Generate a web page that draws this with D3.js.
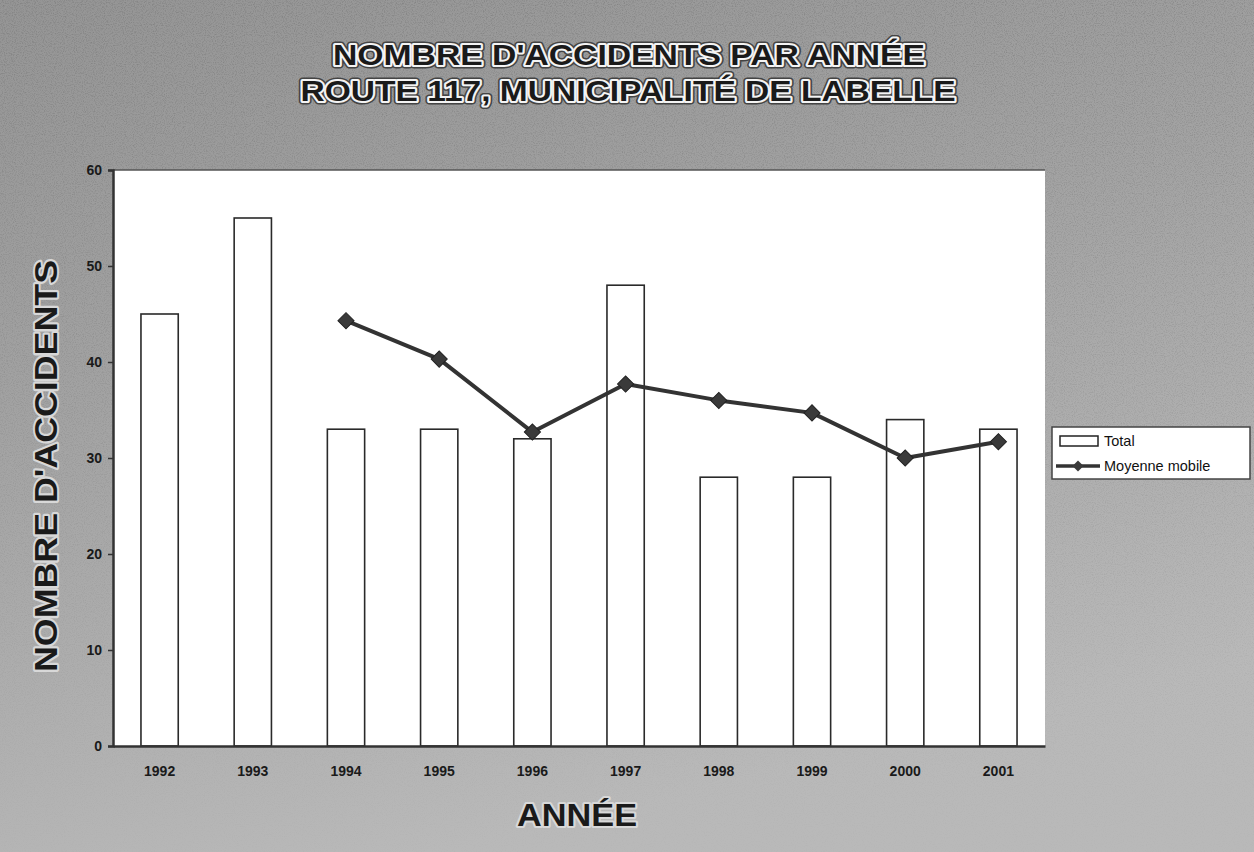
<!DOCTYPE html>
<html>
<head>
<meta charset="utf-8">
<script src="https://cdn.jsdelivr.net/npm/d3@7.9.0/dist/d3.min.js"></script>
<style>
  html, body { margin: 0; padding: 0; background: #a8a8a8; }
  svg { display: block; font-family: "Liberation Sans", Arial, sans-serif; }
</style>
</head>
<body>
<svg id="chart" width="1254" height="852"></svg>
<script>
const years = ["1992", "1993", "1994", "1995", "1996", "1997", "1998", "1999", "2000", "2001"];
const totals = [45, 55, 33, 33, 32, 48, 28, 28, 34, 33];
// moyenne mobile (3 ans), pas de valeur pour 1992 et 1993
const maYears = ["1994", "1995", "1996", "1997", "1998", "1999", "2000", "2001"];
const maValues = [44.3, 40.3, 32.7, 37.7, 36, 34.7, 30, 31.7];
const yTicks = [0, 10, 20, 30, 40, 50, 60];

const svg = d3.select("#chart");
const W = 1254, H = 852;
const plot = { left: 113, right: 1045, top: 170, bottom: 746 };

// fond gris texturé
const defs = svg.append("defs");
const grad = defs.append("linearGradient").attr("id", "bg")
  .attr("x1", 0).attr("y1", 0).attr("x2", 0.35).attr("y2", 1);
grad.append("stop").attr("offset", "0%").attr("stop-color", "#959595");
grad.append("stop").attr("offset", "45%").attr("stop-color", "#a3a3a3");
grad.append("stop").attr("offset", "100%").attr("stop-color", "#b9b9b9");

const fade = defs.append("linearGradient").attr("id", "fade")
  .attr("x1", 0).attr("y1", 0).attr("x2", 0).attr("y2", 1);
fade.append("stop").attr("offset", "0%").attr("stop-color", "#fff");
fade.append("stop").attr("offset", "55%").attr("stop-color", "#fff").attr("stop-opacity", 0.6);
fade.append("stop").attr("offset", "100%").attr("stop-color", "#fff").attr("stop-opacity", 0.1);
defs.append("mask").attr("id", "fadeMask")
  .append("rect").attr("width", W).attr("height", H).attr("fill", "url(#fade)");

const f = defs.append("filter").attr("id", "grain")
  .attr("x", 0).attr("y", 0).attr("width", "100%").attr("height", "100%");
f.append("feTurbulence").attr("type", "fractalNoise").attr("baseFrequency", 0.9)
  .attr("numOctaves", 2).attr("seed", 3).attr("result", "n");
f.append("feColorMatrix").attr("type", "matrix")
  .attr("values", "0 0 0 0 0  0 0 0 0 0  0 0 0 0 0  0 0 0 -1.6 0.9");

svg.append("rect").attr("width", W).attr("height", H).attr("fill", "url(#bg)");
svg.append("rect").attr("width", W).attr("height", H).attr("fill", "#000")
  .attr("opacity", 0.2).attr("filter", "url(#grain)").attr("mask", "url(#fadeMask)");

// zone de tracé
svg.append("rect")
  .attr("x", plot.left).attr("y", plot.top)
  .attr("width", plot.right - plot.left).attr("height", plot.bottom - plot.top)
  .attr("fill", "#fff");
svg.append("line")
  .attr("x1", plot.left).attr("x2", plot.right)
  .attr("y1", plot.top).attr("y2", plot.top)
  .attr("stroke", "#555").attr("stroke-width", 1.5);

const x = d3.scaleBand().domain(years)
  .range([plot.left, plot.right]).paddingInner(0.6).paddingOuter(0.3);
const y = d3.scaleLinear().domain([0, 60]).range([plot.bottom, plot.top]);

// barres
svg.append("g").selectAll("rect")
  .data(years)
  .join("rect")
  .attr("x", d => x(d))
  .attr("y", (d, i) => y(totals[i]))
  .attr("width", x.bandwidth())
  .attr("height", (d, i) => y(0) - y(totals[i]))
  .attr("fill", "#fff")
  .attr("stroke", "#2a2a2a")
  .attr("stroke-width", 1.6);

// axes
const yAxis = svg.append("g")
  .attr("transform", `translate(${plot.left},0)`)
  .call(d3.axisLeft(y).tickValues(yTicks).tickSize(5).tickPadding(6));
yAxis.select(".domain").attr("stroke", "#333").attr("stroke-width", 2.5);
yAxis.selectAll(".tick line").attr("stroke", "#333").attr("stroke-width", 1.5);
yAxis.selectAll(".tick text")
  .attr("font-size", 14).attr("font-weight", "bold").attr("fill", "#1a1a1a")
  .attr("font-family", "Liberation Sans, Arial, sans-serif");

const xAxis = svg.append("g")
  .attr("transform", `translate(0,${plot.bottom})`)
  .call(d3.axisBottom(x).tickSize(0).tickPadding(20));
xAxis.select(".domain").attr("stroke", "#333").attr("stroke-width", 2.5);
xAxis.selectAll(".tick text")
  .attr("font-size", 14).attr("font-weight", "bold").attr("fill", "#1a1a1a")
  .attr("font-family", "Liberation Sans, Arial, sans-serif");

// moyenne mobile
const cx = d => x(d) + x.bandwidth() / 2;
const line = d3.line().x(d => cx(d[0])).y(d => y(d[1]));
const maData = maYears.map((d, i) => [d, maValues[i]]);
svg.append("path")
  .datum(maData)
  .attr("d", line)
  .attr("fill", "none")
  .attr("stroke", "#333")
  .attr("stroke-width", 4)
  .attr("stroke-linejoin", "round");
const diamond = d3.symbol().type(d3.symbolSquare).size(130);
svg.append("g").selectAll("path")
  .data(maData)
  .join("path")
  .attr("d", diamond)
  .attr("transform", d => `translate(${cx(d[0])},${y(d[1])}) rotate(45)`)
  .attr("fill", "#3a3a3a")
  .attr("stroke", "#222")
  .attr("stroke-width", 1);

// légende
const lg = svg.append("g");
lg.append("rect").attr("x", 1052).attr("y", 427).attr("width", 198).attr("height", 52)
  .attr("fill", "#fff").attr("stroke", "#444").attr("stroke-width", 1.5);
lg.append("rect").attr("x", 1060).attr("y", 436).attr("width", 38).attr("height", 10)
  .attr("fill", "#fff").attr("stroke", "#222").attr("stroke-width", 1.5);
lg.append("text").attr("x", 1104).attr("y", 446).attr("font-size", 14.5).attr("fill", "#111").text("Total");
lg.append("line").attr("x1", 1056).attr("x2", 1100).attr("y1", 466).attr("y2", 466)
  .attr("stroke", "#333").attr("stroke-width", 3.5);
lg.append("path").attr("d", d3.symbol().type(d3.symbolSquare).size(60))
  .attr("transform", "translate(1078,466) rotate(45)").attr("fill", "#3a3a3a");
lg.append("text").attr("x", 1104).attr("y", 471).attr("font-size", 14.5).attr("fill", "#111").text("Moyenne mobile");

// titres
function outlined(g, txt, xx, yy, size, len, rotate, halo) {
  const t = g.append("g").attr("transform", rotate ? `translate(${xx},${yy}) rotate(-90)` : `translate(${xx},${yy})`);
  halo.forEach(([c, w]) => {
    t.append("text").attr("text-anchor", "middle").attr("font-size", size).attr("font-weight", "bold")
      .attr("textLength", len).attr("lengthAdjust", "spacingAndGlyphs")
      .attr("fill", c).attr("stroke", c).attr("stroke-width", w).attr("stroke-linejoin", "round")
      .text(txt);
  });
  t.append("text").attr("text-anchor", "middle").attr("font-size", size).attr("font-weight", "bold")
    .attr("textLength", len).attr("lengthAdjust", "spacingAndGlyphs")
    .attr("fill", "#1a1a1a").text(txt);
}
const strong = [["#444", 7], ["#f4f4f4", 4]];
const soft = [["#d8d8d8", 4]];
outlined(svg, "NOMBRE D'ACCIDENTS PAR ANNÉE", 629, 65, 30, 592, false, strong);
outlined(svg, "ROUTE 117, MUNICIPALITÉ DE LABELLE", 628, 101, 30, 655, false, strong);
outlined(svg, "NOMBRE D'ACCIDENTS", 57, 466, 31, 412, true, soft);
outlined(svg, "ANNÉE", 577, 826, 31, 120, false, soft);
</script>
</body>
</html>
